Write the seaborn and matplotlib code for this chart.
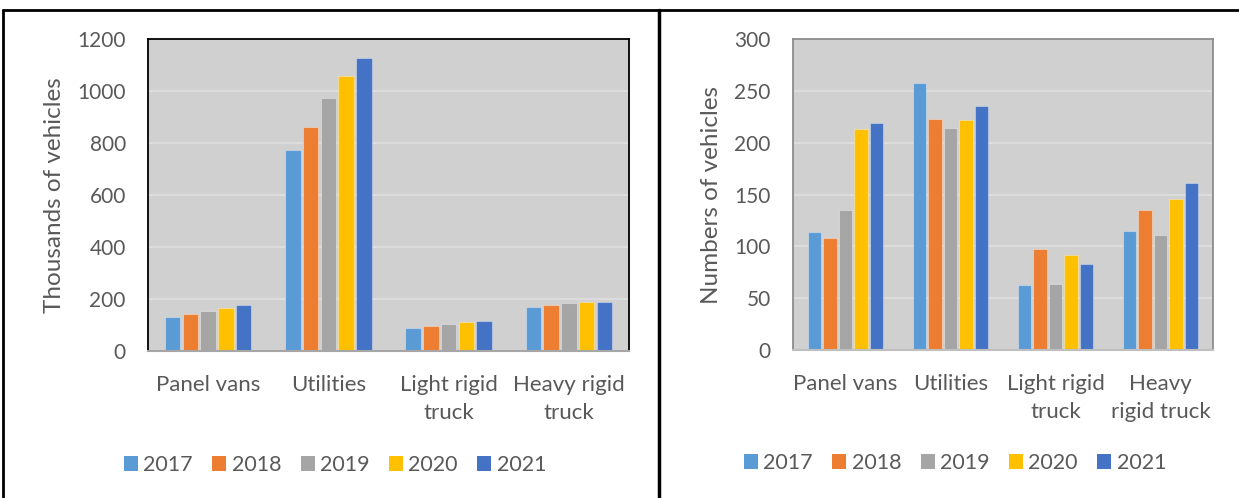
import matplotlib
matplotlib.use("Agg")
import matplotlib.pyplot as plt
from matplotlib.lines import Line2D
from matplotlib.patches import Patch
import seaborn as sns
import pandas as pd

# ---- data ----
years = ["2017", "2018", "2019", "2020", "2021"]
categories = ["Panel vans", "Utilities", "Light rigid truck", "Heavy rigid truck"]
left_labels = ["Panel vans", "Utilities", "Light rigid\ntruck", "Heavy rigid\ntruck"]
right_labels = ["Panel vans", "Utilities", "Light rigid\ntruck", "Heavy\nrigid truck"]

thousands_2017 = [132, 773, 89, 171]
thousands_2018 = [143, 861, 95, 176]
thousands_2019 = [155, 974, 104, 184]
thousands_2020 = [165, 1059, 110, 187]
thousands_2021 = [178, 1128, 117, 189]

numbers_2017 = [114, 258, 63, 115]
numbers_2018 = [108, 223, 97, 135]
numbers_2019 = [135, 214, 64, 111]
numbers_2020 = [213, 222, 92, 146]
numbers_2021 = [219, 235, 83, 161]

colors = ["#5B9BD5", "#ED7D31", "#A5A5A5", "#FFC000", "#4472C4"]

def long_df(series):
    rows = []
    for y, vals in zip(years, series):
        for c, v in zip(categories, vals):
            rows.append({"category": c, "year": y, "value": v})
    return pd.DataFrame(rows)

left_df = long_df([thousands_2017, thousands_2018, thousands_2019, thousands_2020, thousands_2021])
right_df = long_df([numbers_2017, numbers_2018, numbers_2019, numbers_2020, numbers_2021])

sns.set_theme(style="white")
plt.rcParams["font.family"] = ["Lato", "DejaVu Sans"]
TXT = "#595959"

W, H = 1239, 498
fig = plt.figure(figsize=(W / 100, H / 100), dpi=100)
fig.patch.set_facecolor("white")

def px_axes(x0, y0, x1, y1):
    return fig.add_axes([x0 / W, 1 - y1 / H, (x1 - x0) / W, (y1 - y0) / H])

ax1 = px_axes(148, 39, 629, 351)
ax2 = px_axes(793, 39, 1213, 350)

def draw(ax, df, ymax, step, labels, ylabel, spine_col, bottom_col):
    ax.set_facecolor("#D0D0D0")
    sns.barplot(data=df, x="category", y="value", hue="year", hue_order=years,
                order=categories, palette=colors, width=0.74, gap=0.13,
                edgecolor=(1, 1, 1, 0.35), linewidth=0.8, ax=ax, legend=False,
                errorbar=None, saturation=1)
    ax.set_ylim(0, ymax)
    ax.set_yticks(range(0, ymax + 1, step))
    ax.set_xticks(range(len(categories)))
    ax.set_xticklabels(labels, linespacing=1.5)
    ax.grid(axis="y", color="#DCDCDC", linewidth=1.5)
    ax.set_axisbelow(True)
    ax.set_xlabel("")
    ax.set_ylabel(ylabel, fontsize=17.5, color=TXT, labelpad=9)
    ax.tick_params(axis="y", length=0, pad=16, labelsize=15, labelcolor=TXT)
    ax.tick_params(axis="x", length=0, pad=17, labelsize=16, labelcolor=TXT)
    for s in ["top", "left", "right"]:
        ax.spines[s].set_color(spine_col)
        ax.spines[s].set_linewidth(1.3)
        ax.spines[s].set_visible(True)
    ax.spines["bottom"].set_color(bottom_col)
    ax.spines["bottom"].set_linewidth(1.5)

draw(ax1, left_df, 1200, 200, left_labels, "Thousands of vehicles", "black", "#A6A6A6")
draw(ax2, right_df, 300, 50, right_labels, "Numbers of vehicles", "#8C8C8C", "#BFBFBF")

handles = [Patch(facecolor=c, edgecolor="none", label=y) for c, y in zip(colors, years)]
for cx, cy in [(335, 465), (955, 463)]:
    fig.legend(handles=handles, loc="center", bbox_to_anchor=(cx / W, 1 - cy / H),
               ncol=5, frameon=False, fontsize=15.5, labelcolor=TXT,
               handlelength=0.65, handleheight=0.65, handletextpad=0.25,
               columnspacing=0.9)

# outer panel borders
def fline(x0, y0, x1, y1, lw):
    fig.add_artist(Line2D([x0 / W, x1 / W], [1 - y0 / H, 1 - y1 / H],
                          transform=fig.transFigure, color="black", linewidth=lw))

fline(3, 10, W, 10, 2)
fline(3, 10, 3, H, 2)
fline(659, 10, 659, H, 2.5)

fig.savefig("out.png", dpi=100)
